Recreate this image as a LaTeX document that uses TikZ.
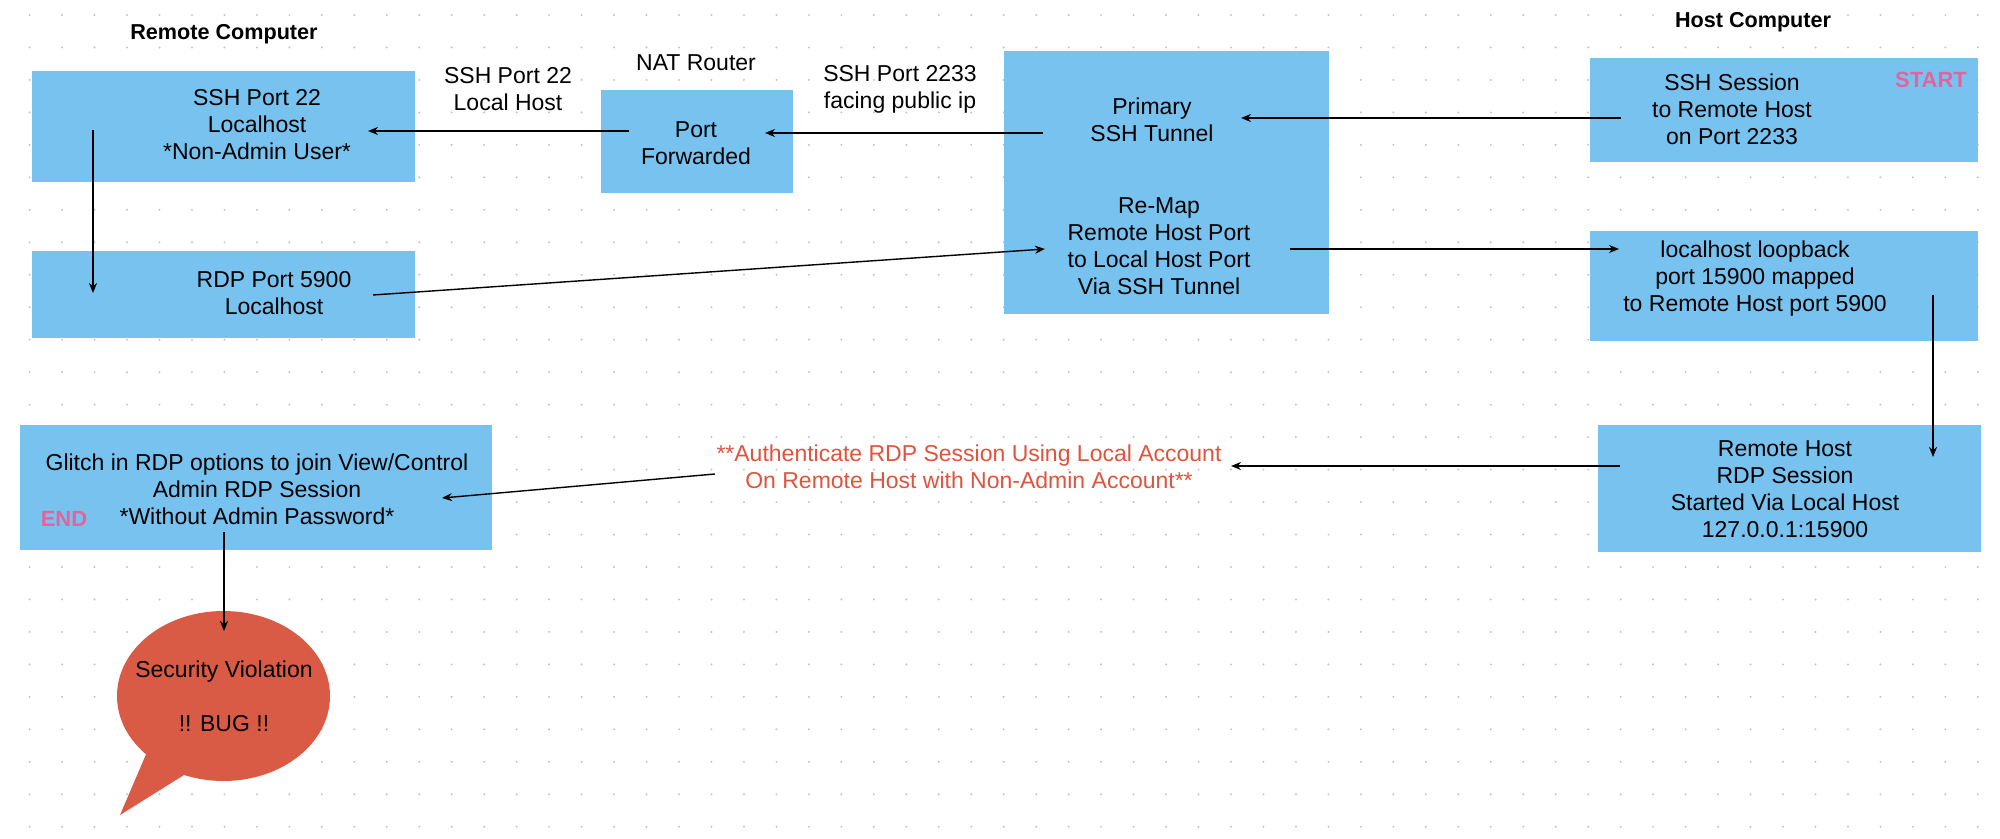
\documentclass[tikz,border=0pt]{standalone}
\usepackage{fontspec}
\setmainfont{Liberation Sans}
\usetikzlibrary{arrows.meta,shapes.geometric}
\definecolor{boxblue}{HTML}{78C2F0}
\definecolor{bubred}{HTML}{D95B45}
\definecolor{authred}{HTML}{E0533D}
\definecolor{tagpink}{HTML}{E2649B}
\definecolor{dotgray}{HTML}{C4C4C4}
\tikzset{
  box/.style={fill=boxblue, draw=none, inner sep=0pt},
  txt/.style={inner sep=0pt, align=center, font=\fontsize{11.5}{13.5}\selectfont},
  title/.style={inner sep=0pt, align=center, font=\fontsize{10.8}{13}\selectfont\bfseries},
  tag/.style={inner sep=0pt, text=tagpink, font=\fontsize{11}{13}\selectfont\bfseries},
  conn/.style={line width=0.7pt, -{Stealth[length=5pt,width=4pt]}},
}
\begin{document}
\begin{tikzpicture}[x=0.5pt,y=-0.5pt]
\useasboundingbox (0,0) rectangle (2000,839);
\fill[white] (0,0) rectangle (2000,839);
% dot grid
\foreach \i in {0,...,60}{
  \foreach \j in {0,...,25}{
    \fill[dotgray] ({29.6+32.47*\i},{15+32.47*\j}) circle (1.1);
  }
}
% boxes
\node[box, minimum width=191.5pt, minimum height=55.5pt] (b1) at (223.5,126.5) {};
\node[box, minimum width=191.5pt, minimum height=43.5pt] (b2) at (223.5,294.5) {};
\node[box, minimum width=96pt, minimum height=51.5pt] (b3) at (697,141.5) {};
\node[box, minimum width=162.5pt, minimum height=131.5pt] (b4) at (1166.5,182.5) {};
\node[box, minimum width=194pt, minimum height=52pt] (b5) at (1784,110) {};
\node[box, minimum width=194pt, minimum height=55pt] (b6) at (1784,286) {};
\node[box, minimum width=191.5pt, minimum height=63.5pt] (b7) at (1789.5,488.5) {};
\node[box, minimum width=236pt, minimum height=62.5pt] (b8) at (256,487.5) {};
% bubble
\fill[bubred] (150,745) -- (120,815) -- (192,770) -- cycle;
\node[ellipse, fill=bubred, minimum width=106.5pt, minimum height=85pt, inner sep=0pt] (bug) at (223.5,696) {};
\node[txt] (bugtxt) at (224,696.5) {Security Violation\\[13.5pt]!! BUG !!};
% titles and labels
\node[title] (remote) at (224,34) {Remote Computer};
\node[title] (host) at (1753,22) {Host Computer};
\node[txt] (nat) at (696,63) {NAT Router};
\node[txt] (l22) at (508,89) {SSH Port 22\\Local Host};
\node[txt] (l2233) at (900,89) {SSH Port 2233\\facing public ip};
% box texts
\node[txt] (t1) at (257,125) {SSH Port 22\\Localhost\\*Non-Admin User*};
\node[txt] (t2) at (274,293) {RDP Port 5900\\Localhost};
\node[txt] (t3) at (696,143) {Port\\Forwarded};
\node[txt] (t4a) at (1152,119.5) {Primary\\SSH Tunnel};
\node[txt] (t4b) at (1159,246.5) {Re-Map\\Remote Host Port\\to Local Host Port\\Via SSH Tunnel};
\node[txt] (t5) at (1732,109) {SSH Session\\to Remote Host\\on Port 2233};
\node[txt] (t6) at (1755,279) {localhost loopback\\port 15900 mapped\\to Remote Host port 5900};
\node[txt] (t7) at (1785,489) {Remote Host\\RDP Session\\Started Via Local Host\\127.0.0.1:15900};
\node[txt] (t8) at (257,489.5) {Glitch in RDP options to join View/Control\\Admin RDP Session\\*Without Admin Password*};
\node[txt, text=authred] (auth) at (969,467) {**Authenticate RDP Session Using Local Account\\On Remote Host with Non-Admin Account**};
\node[tag] (start) at (1931,80) {START};
\node[tag] (endtag) at (64,519) {END};
% connector ends
\coordinate (a1) at (629,131); \coordinate (a2) at (368,131);
\coordinate (b1s) at (1043,133); \coordinate (b1e) at (765,133);
\coordinate (c1) at (1621,118); \coordinate (c2) at (1241,118);
\coordinate (d1) at (93,130); \coordinate (d2) at (93,293);
\coordinate (e1) at (373,295); \coordinate (e2) at (1045,249);
\coordinate (f1) at (1290,249); \coordinate (f2) at (1619,249);
\coordinate (g1) at (1933,295); \coordinate (g2) at (1933,457);
\coordinate (h1) at (1620,466); \coordinate (h2) at (1231,466);
\coordinate (i1) at (715,474); \coordinate (i2) at (442,498);
\coordinate (j1) at (224,532); \coordinate (j2) at (224,631);
\draw[conn] (a1) -- (a2);
\draw[conn] (b1s) -- (b1e);
\draw[conn] (c1) -- (c2);
\draw[conn] (d1) -- (d2);
\draw[conn] (e1) -- (e2);
\draw[conn] (f1) -- (f2);
\draw[conn] (g1) -- (g2);
\draw[conn] (h1) -- (h2);
\draw[conn] (i1) -- (i2);
\draw[conn] (j1) -- (j2);
\end{tikzpicture}
\end{document}
